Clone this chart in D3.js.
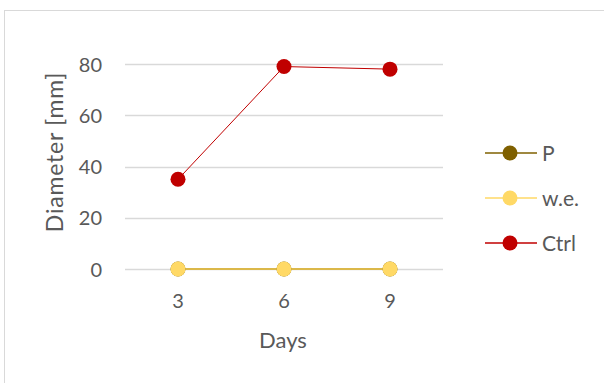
<!DOCTYPE html>
<html><head><meta charset="utf-8">
<script src="https://cdn.jsdelivr.net/npm/d3@7"></script>
<style>html,body{margin:0;padding:0;background:#fff;}svg{display:block;}</style>
</head><body>
<svg id="c" width="604" height="383"></svg>
<script>
const days = ["3", "6", "9"];
const seriesNames = ["P", "w.e.", "Ctrl"];
const valuesP = [0, 0, 0];
const valuesWE = [0, 0, 0];
const valuesCtrl = [35, 79, 78];
const yTicks = [0, 20, 40, 60, 80];
const colors = ["#7f6000", "#ffd966", "#c00000"];

const series = [valuesP, valuesWE, valuesCtrl].map((v, i) => ({name: seriesNames[i], values: v, color: colors[i]}));

const svg = d3.select("#c");
const font = "Lato, 'Open Sans', sans-serif";
const textColor = "#595959";

svg.append("rect").attr("x", 4.5).attr("y", 10.5).attr("width", 610).attr("height", 390)
  .attr("fill", "#fff").attr("stroke", "#d9d9d9").attr("stroke-width", 1);

const x = d3.scaleBand().domain(days).range([125, 443]);
const y = d3.scaleLinear().domain([0, 80]).range([269, 64]);

svg.append("g").selectAll("line").data(yTicks).join("line")
  .attr("x1", 125).attr("x2", 443)
  .attr("y1", d => Math.round(y(d)) + 0.5).attr("y2", d => Math.round(y(d)) + 0.5)
  .attr("stroke", "#d9d9d9").attr("stroke-width", 1.4);

const yAxis = svg.append("g").attr("transform", "translate(102,0)")
  .call(d3.axisLeft(y).tickValues(yTicks).tickSize(0).tickPadding(0));
yAxis.select(".domain").remove();
yAxis.selectAll("text").attr("font-family", font).attr("font-size", 20).attr("fill", textColor)
  .attr("dy", "0.36em");

const xAxis = svg.append("g").attr("transform", "translate(0,308)")
  .call(d3.axisBottom(x).tickSize(0).tickPadding(0));
xAxis.select(".domain").remove();
xAxis.selectAll("text").attr("font-family", font).attr("font-size", 20).attr("fill", textColor).attr("dy", 0).attr("y", 0);

svg.append("text").attr("x", 283).attr("y", 348).attr("text-anchor", "middle")
  .attr("font-family", font).attr("font-size", 22).attr("fill", textColor).text("Days");
svg.append("text").attr("transform", "translate(63,152) rotate(-90)").attr("text-anchor", "middle")
  .attr("font-family", font).attr("font-size", 23).attr("letter-spacing", 0.8).attr("fill", textColor).text("Diameter [mm]");

const line = d3.line().x((d, i) => x(days[i]) + x.bandwidth() / 2).y(d => y(d));
series.forEach((s, si) => {
  svg.append("path").datum(s.values).attr("d", line).attr("fill", "none")
    .attr("stroke", s.color).attr("stroke-width", si === 2 ? 1 : 2)
    .attr("stroke-opacity", si === 1 ? 0.72 : 1);
});
series.forEach(s => {
  svg.selectAll(null).data(s.values).join("circle")
    .attr("cx", (d, i) => x(days[i]) + x.bandwidth() / 2).attr("cy", d => y(d))
    .attr("r", 7.5).attr("fill", s.color);
});

const leg = svg.append("g");
series.forEach((s, i) => {
  const ly = 153 + i * 45;
  leg.append("line").attr("x1", 485).attr("x2", 537).attr("y1", ly).attr("y2", ly)
    .attr("stroke", s.color).attr("stroke-width", 1.3);
  leg.append("circle").attr("cx", 510).attr("cy", ly).attr("r", 7.5).attr("fill", s.color);
  leg.append("text").attr("x", 542).attr("y", ly).attr("dy", "0.36em")
    .attr("font-family", font).attr("font-size", 21).attr("fill", textColor).text(s.name);
});
</script>
</body></html>
